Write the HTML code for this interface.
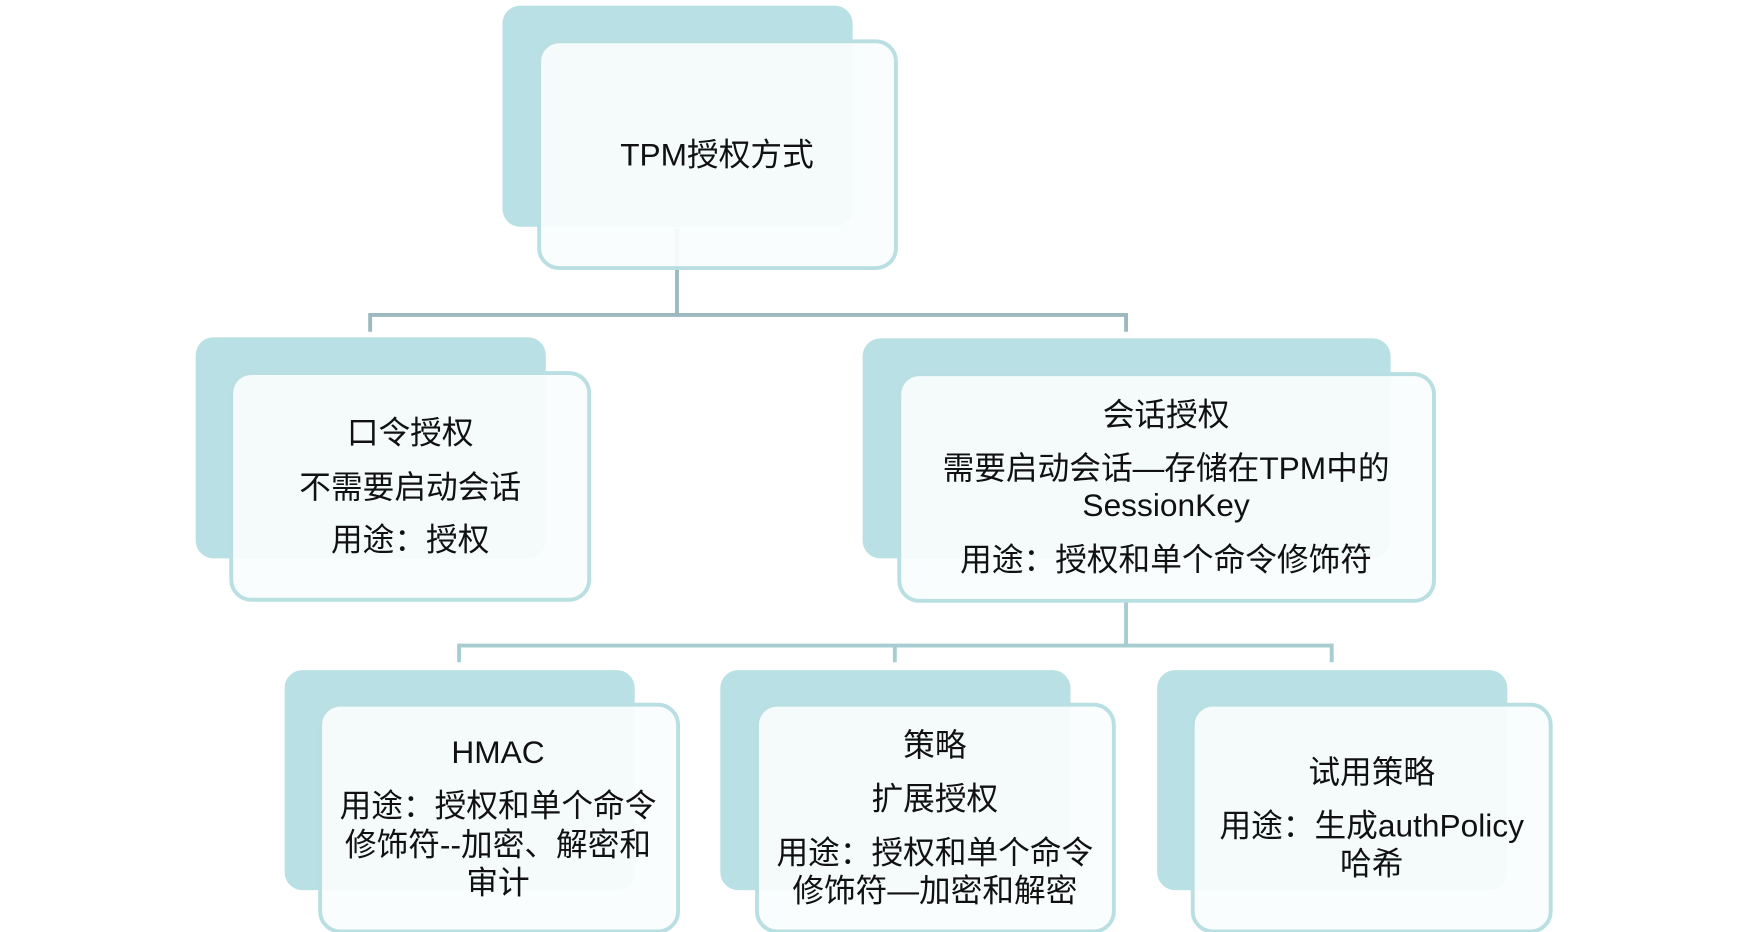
<!DOCTYPE html>
<html><head><meta charset="utf-8"><style>
html,body{margin:0;padding:0;background:#fff;}
svg{display:block}
text{font-family:"Liberation Sans","Noto Sans CJK SC",sans-serif;font-size:28.5px;fill:#111;text-anchor:middle;}
.b{fill:#b9e0e4;}
.f{fill:rgba(250,253,253,0.93);stroke:#b9dfe3;stroke-width:3.5;}
</style></head><body>
<svg width="1743" height="932" viewBox="0 0 1568 834.5" preserveAspectRatio="none">
<g fill="none" stroke-width="3.5">
<path d="M609 205V282M333 297V282H1013V297" stroke="#9bb9be"/>
<path d="M1013 538V578M413 593V578H1198V593M805 578V593" stroke="#a8cdd1"/>
</g>
<rect class="b" x="452" y="5" width="315" height="198" rx="16"/>
<rect class="f" x="485" y="37" width="321" height="203" rx="18"/>
<text x="645" y="148">TPM授权方式</text>

<rect class="b" x="176" y="302" width="315" height="198" rx="16"/>
<rect class="f" x="208" y="334" width="322" height="203" rx="18"/>
<text x="369" y="397">口令授权</text>
<text x="369" y="446">不需要启动会话</text>
<text x="369" y="493">用途：授权</text>

<rect class="b" x="776" y="303" width="475" height="197" rx="16"/>
<rect class="f" x="809" y="335" width="481" height="203" rx="18"/>
<text x="1049" y="381">会话授权</text>
<text x="1049" y="429">需要启动会话—存储在TPM中的</text>
<text x="1049" y="462">SessionKey</text>
<text x="1049" y="511">用途：授权和单个命令修饰符</text>

<rect class="b" x="256" y="600" width="315" height="197" rx="16"/>
<rect class="f" x="288" y="631" width="322" height="203" rx="18"/>
<text x="448" y="683">HMAC</text>
<text x="448" y="731">用途：授权和单个命令</text>
<text x="448" y="766">修饰符--加密、解密和</text>
<text x="448" y="800">审计</text>

<rect class="b" x="648" y="600" width="315" height="197" rx="16"/>
<rect class="f" x="681" y="631" width="321" height="203" rx="18"/>
<text x="841" y="677">策略</text>
<text x="841" y="725">扩展授权</text>
<text x="841" y="773">用途：授权和单个命令</text>
<text x="841" y="807">修饰符—加密和解密</text>

<rect class="b" x="1041" y="600" width="315" height="197" rx="16"/>
<rect class="f" x="1073" y="631" width="322" height="203" rx="18"/>
<text x="1234" y="701">试用策略</text>
<text x="1234" y="749">用途：生成authPolicy</text>
<text x="1234" y="783">哈希</text>
</svg>
</body></html>
